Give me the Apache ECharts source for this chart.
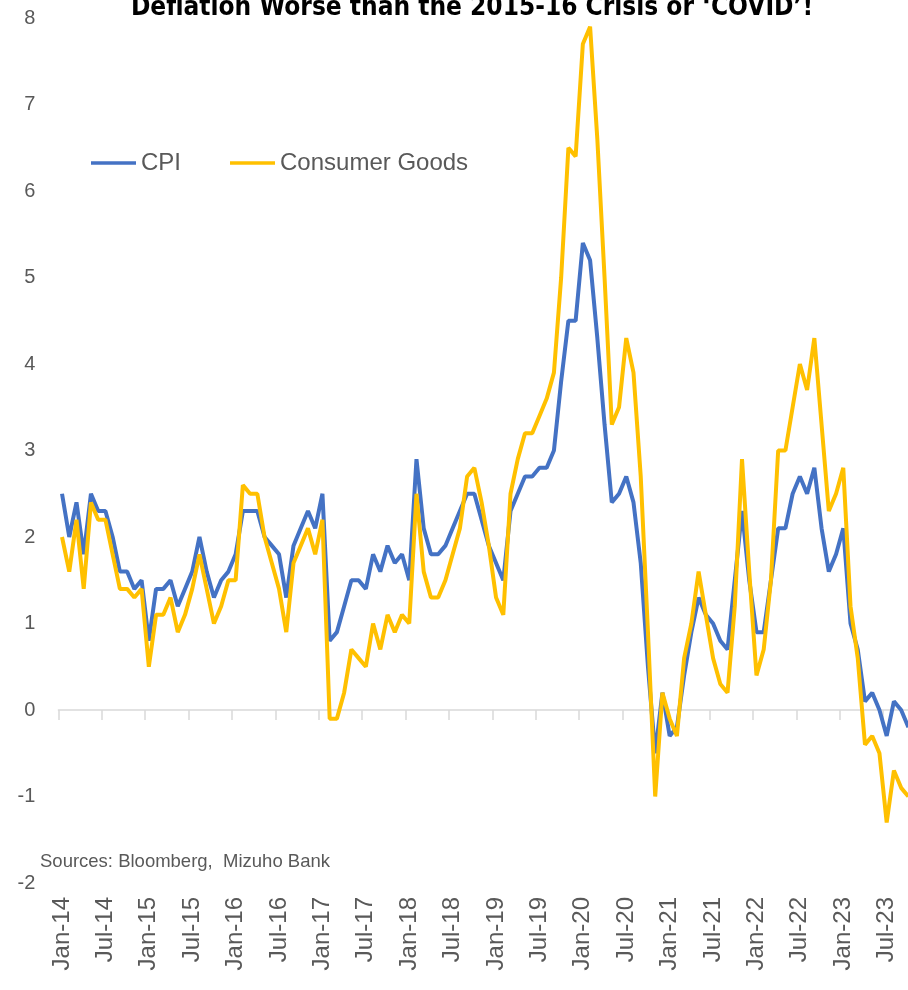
<!DOCTYPE html>
<html>
<head>
<meta charset="utf-8">
<title>CPI vs Consumer Goods</title>
<script src="https://cdn.jsdelivr.net/npm/echarts@6/dist/echarts.min.js"></script>
<style>
  html, body { margin: 0; padding: 0; background: #fff; overflow: hidden; }
  /* a little wider than the window: the last month is cut at the right edge, as in the source */
  #main { width: 912px; height: 990px; }
</style>
</head>
<body>
<div id="main"></div>
<script>
// months, Jan-14 .. Oct-23
const months = [
  'Jan-14', 'Feb-14', 'Mar-14', 'Apr-14', 'May-14', 'Jun-14', 'Jul-14', 'Aug-14', 'Sep-14', 'Oct-14', 'Nov-14', 'Dec-14',
  'Jan-15', 'Feb-15', 'Mar-15', 'Apr-15', 'May-15', 'Jun-15', 'Jul-15', 'Aug-15', 'Sep-15', 'Oct-15', 'Nov-15', 'Dec-15',
  'Jan-16', 'Feb-16', 'Mar-16', 'Apr-16', 'May-16', 'Jun-16', 'Jul-16', 'Aug-16', 'Sep-16', 'Oct-16', 'Nov-16', 'Dec-16',
  'Jan-17', 'Feb-17', 'Mar-17', 'Apr-17', 'May-17', 'Jun-17', 'Jul-17', 'Aug-17', 'Sep-17', 'Oct-17', 'Nov-17', 'Dec-17',
  'Jan-18', 'Feb-18', 'Mar-18', 'Apr-18', 'May-18', 'Jun-18', 'Jul-18', 'Aug-18', 'Sep-18', 'Oct-18', 'Nov-18', 'Dec-18',
  'Jan-19', 'Feb-19', 'Mar-19', 'Apr-19', 'May-19', 'Jun-19', 'Jul-19', 'Aug-19', 'Sep-19', 'Oct-19', 'Nov-19', 'Dec-19',
  'Jan-20', 'Feb-20', 'Mar-20', 'Apr-20', 'May-20', 'Jun-20', 'Jul-20', 'Aug-20', 'Sep-20', 'Oct-20', 'Nov-20', 'Dec-20',
  'Jan-21', 'Feb-21', 'Mar-21', 'Apr-21', 'May-21', 'Jun-21', 'Jul-21', 'Aug-21', 'Sep-21', 'Oct-21', 'Nov-21', 'Dec-21',
  'Jan-22', 'Feb-22', 'Mar-22', 'Apr-22', 'May-22', 'Jun-22', 'Jul-22', 'Aug-22', 'Sep-22', 'Oct-22', 'Nov-22', 'Dec-22',
  'Jan-23', 'Feb-23', 'Mar-23', 'Apr-23', 'May-23', 'Jun-23', 'Jul-23', 'Aug-23', 'Sep-23', 'Oct-23'
]

const cpi = [
  2.5, 2.0, 2.4, 1.8, 2.5, 2.3, 2.3, 2.0, 1.6, 1.6, 1.4, 1.5,
  0.8, 1.4, 1.4, 1.5, 1.2, 1.4, 1.6, 2.0, 1.6, 1.3, 1.5, 1.6,
  1.8, 2.3, 2.3, 2.3, 2.0, 1.9, 1.8, 1.3, 1.9, 2.1, 2.3, 2.1,
  2.5, 0.8, 0.9, 1.2, 1.5, 1.5, 1.4, 1.8, 1.6, 1.9, 1.7, 1.8,
  1.5, 2.9, 2.1, 1.8, 1.8, 1.9, 2.1, 2.3, 2.5, 2.5, 2.2, 1.9,
  1.7, 1.5, 2.3, 2.5, 2.7, 2.7, 2.8, 2.8, 3.0, 3.8, 4.5, 4.5,
  5.4, 5.2, 4.3, 3.3, 2.4, 2.5, 2.7, 2.4, 1.7, 0.5, -0.5, 0.2,
  -0.3, -0.2, 0.4, 0.9, 1.3, 1.1, 1.0, 0.8, 0.7, 1.5, 2.3, 1.5,
  0.9, 0.9, 1.5, 2.1, 2.1, 2.5, 2.7, 2.5, 2.8, 2.1, 1.6, 1.8,
  2.1, 1.0, 0.7, 0.1, 0.2, 0.0, -0.3, 0.1, 0.0, -0.2
]

const consumerGoods = [
  2.0, 1.6, 2.2, 1.4, 2.4, 2.2, 2.2, 1.8, 1.4, 1.4, 1.3, 1.4,
  0.5, 1.1, 1.1, 1.3, 0.9, 1.1, 1.4, 1.8, 1.4, 1.0, 1.2, 1.5,
  1.5, 2.6, 2.5, 2.5, 2.0, 1.7, 1.4, 0.9, 1.7, 1.9, 2.1, 1.8,
  2.2, -0.1, -0.1, 0.2, 0.7, 0.6, 0.5, 1.0, 0.7, 1.1, 0.9, 1.1,
  1.0, 2.5, 1.6, 1.3, 1.3, 1.5, 1.8, 2.1, 2.7, 2.8, 2.4, 1.9,
  1.3, 1.1, 2.5, 2.9, 3.2, 3.2, 3.4, 3.6, 3.9, 5.0, 6.5, 6.4,
  7.7, 7.9, 6.6, 5.0, 3.3, 3.5, 4.3, 3.9, 2.7, 0.9, -1.0, 0.2,
  -0.1, -0.3, 0.6, 1.0, 1.6, 1.1, 0.6, 0.3, 0.2, 1.2, 2.9, 1.6,
  0.4, 0.7, 1.5, 3.0, 3.0, 3.5, 4.0, 3.7, 4.3, 3.3, 2.3, 2.5,
  2.8, 1.2, 0.6, -0.4, -0.3, -0.5, -1.3, -0.7, -0.9, -1.0
]

const titleText = 'Deflation Worse than the 2015-16 Crisis or \u2018COVID\u2019!'
const sourceText = 'Sources: Bloomberg,  Mizuho Bank'

const labelFont = '"Liberation Sans", Arial, sans-serif'
const gray = '#595959'

const chart = echarts.init(document.getElementById('main'))

chart.setOption({
  animation: false,
  backgroundColor: '#fff',
  color: ['#4472C4', '#FFC000'],
  grid: {
    left: 58.4,
    right: 0,
    top: 18,
    bottom: 107
  },
  legend: {
    data: ['CPI', 'Consumer Goods'],
    left: 86,
    top: 146,
    icon: 'rect',
    itemWidth: 45,
    itemHeight: 3.5,
    itemGap: 49,
    textStyle: { fontSize: 24, color: gray, fontFamily: labelFont }
  },
  xAxis: [
    {
      // axis line + ticks sitting on zero
      type: 'category',
      data: months,
      boundaryGap: true,
      axisLine: { onZero: true, lineStyle: { color: '#d9d9d9', width: 1.5 } },
      axisTick: { show: true, interval: 5, length: 10, lineStyle: { color: '#d9d9d9', width: 1.5 } },
      axisLabel: { show: false },
      splitLine: { show: false }
    },
    {
      // labels at the bottom of the plot
      type: 'category',
      data: months,
      position: 'bottom',
      boundaryGap: true,
      axisLine: { show: false, onZero: false },
      axisTick: { show: false },
      axisLabel: {
        interval: 5,
        rotate: 90,
        margin: 14,
        fontSize: 24,
        color: gray,
        fontFamily: labelFont
      },
      splitLine: { show: false }
    }
  ],
  yAxis: {
    type: 'value',
    min: -2,
    max: 8,
    interval: 1,
    axisLine: { show: false },
    axisTick: { show: false },
    splitLine: { show: false },
    axisLabel: { fontSize: 20, color: gray, margin: 23, fontFamily: labelFont }
  },
  series: [
    {
      name: 'CPI',
      type: 'line',
      data: cpi,
      xAxisIndex: 0,
      symbol: 'none',
      lineStyle: { width: 4, color: '#4472C4' },
      itemStyle: { color: '#4472C4' }
    },
    {
      name: 'Consumer Goods',
      type: 'line',
      data: consumerGoods,
      xAxisIndex: 0,
      symbol: 'none',
      lineStyle: { width: 4, color: '#FFC000' },
      itemStyle: { color: '#FFC000' }
    }
  ],
  graphic: [
    {
      type: 'text',
      x: 472,
      y: 21,
      style: {
        text: titleText,
        font: 'bold 26px "Liberation Sans Narrow", "DejaVu Sans Condensed", sans-serif',
        fill: '#000',
        textAlign: 'center',
        textVerticalAlign: 'bottom'
      }
    },
    {
      type: 'text',
      x: 40,
      y: 862,
      style: {
        text: sourceText,
        font: '18.5px "Liberation Sans", Arial, sans-serif',
        fill: gray,
        textAlign: 'left',
        textVerticalAlign: 'middle'
      }
    }
  ]
})
</script>
</body>
</html>
